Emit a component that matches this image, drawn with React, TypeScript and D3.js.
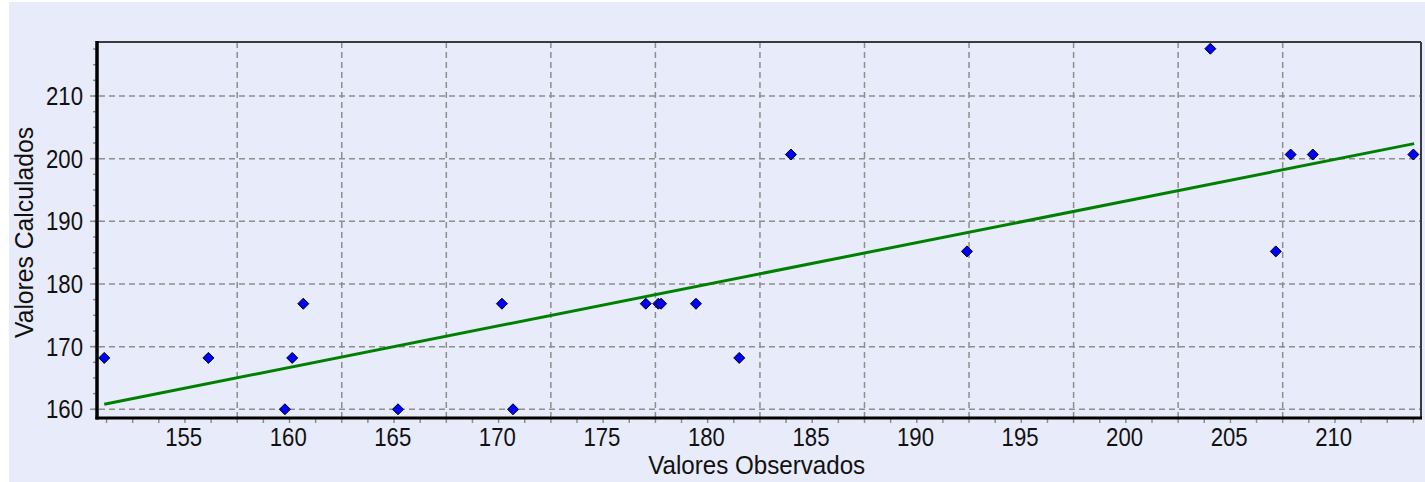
import React from "react";
import * as d3 from "d3";

// ---- data ----
const observed = [
  151.2, 156.18, 159.84, 160.19, 160.72, 165.25, 170.22, 170.75, 177.1, 177.7,
  177.83, 179.5, 181.57, 184.04, 192.46, 204.1, 207.23, 207.94, 209.0, 213.81,
];
const calculated = [
  168.2, 168.2, 160.0, 168.2, 176.85, 160.0, 176.85, 160.0, 176.85, 176.85,
  176.85, 176.85, 168.2, 200.66, 185.2, 217.55, 185.2, 200.66, 200.66, 200.66,
];
const fitX = [151.2, 213.85];
const fitY = [160.8, 202.4];
const xTickLabels = [155, 160, 165, 170, 175, 180, 185, 190, 195, 200, 205, 210];
const yTickLabels = [160, 170, 180, 190, 200, 210];
const xTitle = "Valores Observados";
const yTitle = "Valores Calculados";

// ---- layout / style ----
const W = 1425;
const H = 482;
const left = 97;
const right = 1421;
const top = 42;
const bottom = 418;
const xDomain: [number, number] = [150.854, 214.175];
const yDomain: [number, number] = [158.61, 218.62];
const xGridOffset = 2.56; // vertical grid lines sit between labels
const bg = "#E8EBFA";
const gridColor = "#8E8E8E";
const textColor = "#111";
const font = "'Liberation Sans', Arial, sans-serif";

export default function App() {
  const x = d3.scaleLinear().domain(xDomain).range([left, right]);
  const y = d3.scaleLinear().domain(yDomain).range([bottom, top]);

  const xGrid = d3
    .range(xTickLabels[0] + xGridOffset, xDomain[1], 5)
    .filter((v) => v < xTickLabels[xTickLabels.length - 1]);
  const xMinor: number[] = [];
  for (let v = xGrid[0]; v >= xDomain[0]; v -= 1.25) xMinor.push(v);
  for (let v = xGrid[0] + 1.25; v <= xDomain[1]; v += 1.25) xMinor.push(v);
  const yMinor = d3.range(yTickLabels[0], yDomain[1], 2.5);

  const line = d3
    .line<number>()
    .x((d) => x(d))
    .y((_, i) => y(fitY[i]));

  const diamond = (cx: number, cy: number, r: number) =>
    `M${cx},${cy - r}L${cx + r},${cy}L${cx},${cy + r}L${cx - r},${cy}Z`;

  return (
    <svg
      width={W}
      height={H}
      style={{ position: "absolute", left: 0, top: 0, display: "block" }}
    >
      <rect x={0} y={0} width={W} height={H} fill="#fff" />
      <rect x={9} y={2} width={W - 9} height={H - 2} fill={bg} />

      {/* horizontal grid */}
      {yTickLabels.map((v) => (
        <line
          key={"hg" + v}
          x1={left + 2}
          x2={right}
          y1={y(v)}
          y2={y(v)}
          stroke={gridColor}
          strokeWidth={1.5}
          strokeDasharray="6,4"
        />
      ))}
      {/* vertical grid */}
      {xGrid.map((v) => (
        <line
          key={"vg" + v}
          x1={x(v)}
          x2={x(v)}
          y1={top}
          y2={bottom - 1}
          stroke={gridColor}
          strokeWidth={1.5}
          strokeDasharray="6,4"
        />
      ))}

      {/* frame: top & right thin, left & bottom thick */}
      <line x1={left} x2={right} y1={top} y2={top} stroke="#3a3a3a" strokeWidth={2} />
      <line x1={right} x2={right} y1={top} y2={bottom} stroke="#3a3a3a" strokeWidth={2} />

      {/* y ticks */}
      {yMinor.map((v) => (
        <line
          key={"ym" + v}
          x1={left - 4}
          x2={left}
          y1={y(v)}
          y2={y(v)}
          stroke={gridColor}
          strokeWidth={1.5}
        />
      ))}
      {yTickLabels.map((v) => (
        <line
          key={"yt" + v}
          x1={left - 7}
          x2={left}
          y1={y(v)}
          y2={y(v)}
          stroke={gridColor}
          strokeWidth={1.5}
        />
      ))}
      {/* x ticks */}
      {xMinor.map((v) => (
        <line
          key={"xm" + v}
          x1={x(v)}
          x2={x(v)}
          y1={bottom}
          y2={bottom + 5}
          stroke={gridColor}
          strokeWidth={1.5}
        />
      ))}

      <line x1={left} x2={left} y1={top - 1} y2={bottom + 1.5} stroke="#000" strokeWidth={3.5} />
      <line x1={left - 1.5} x2={right + 1} y1={bottom} y2={bottom} stroke="#000" strokeWidth={3} />

      {/* fit line */}
      <path d={line(fitX) || ""} fill="none" stroke="#008000" strokeWidth={3} />

      {/* points */}
      {observed.map((o, i) => (
        <path
          key={"p" + i}
          d={diamond(x(o), y(calculated[i]), 5.5)}
          fill="#0000FF"
          stroke="#000"
          strokeWidth={1}
        />
      ))}

      {/* tick labels */}
      {xTickLabels.map((v) => (
        <text
          key={"xl" + v}
          x={x(v)}
          y={446}
          textAnchor="middle"
          fontFamily={font}
          fontSize={26}
          fill={textColor}
          textLength={37}
          lengthAdjust="spacingAndGlyphs"
        >
          {v}
        </text>
      ))}
      {yTickLabels.map((v) => (
        <text
          key={"yl" + v}
          x={83}
          y={y(v) + 9}
          textAnchor="end"
          fontFamily={font}
          fontSize={26}
          fill={textColor}
          textLength={37}
          lengthAdjust="spacingAndGlyphs"
        >
          {v}
        </text>
      ))}

      {/* axis titles */}
      <text
        x={756.7}
        y={474}
        textAnchor="middle"
        fontFamily={font}
        fontSize={25}
        fill={textColor}
        textLength={217}
        lengthAdjust="spacingAndGlyphs"
      >
        {xTitle}
      </text>
      <text
        transform={`translate(33,232.5) rotate(-90)`}
        textAnchor="middle"
        fontFamily={font}
        fontSize={25}
        fill={textColor}
        textLength={211}
        lengthAdjust="spacingAndGlyphs"
      >
        {yTitle}
      </text>
    </svg>
  );
}
